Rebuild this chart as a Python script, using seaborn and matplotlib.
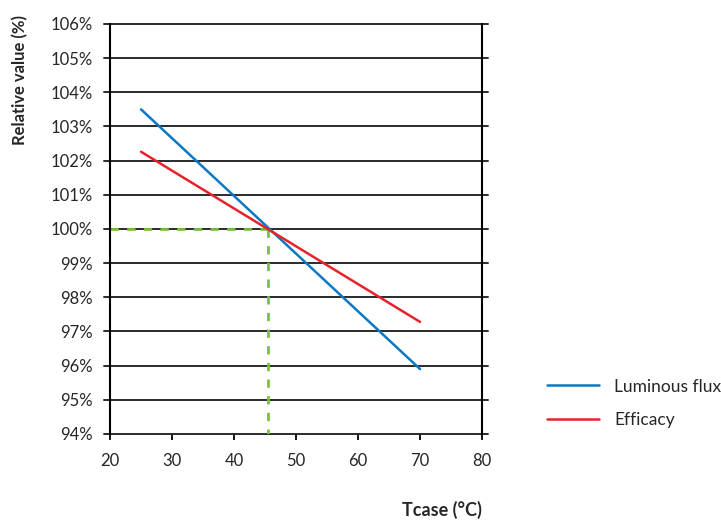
import numpy as np
import pandas as pd
import matplotlib
matplotlib.use("Agg")
import matplotlib.pyplot as plt
import seaborn as sns

# values
tcase = [25, 70]
luminous_flux = [103.5, 95.9]
efficacy = [102.26, 97.28]
ref_t = 45.5
ref_val = 100
y_ticks = list(range(94, 107))
x_ticks = list(range(20, 81, 10))

df = pd.DataFrame({
    "Tcase": tcase * 2,
    "value": luminous_flux + efficacy,
    "series": ["Luminous flux"] * 2 + ["Efficacy"] * 2,
})

sns.set_style("white")
plt.rcParams["font.family"] = ["Lato", "DejaVu Sans"]

fig = plt.figure(figsize=(7.21, 5.23), dpi=100)
ax = fig.add_axes([0.1526, 0.1702, 0.516, 0.784])

# horizontal grid lines, slightly past the spines like the original
for yv in y_ticks:
    ax.axhline(yv, xmin=-0.016, xmax=1.016, color="#2b2b2b", lw=1.4,
               zorder=1, clip_on=False)

# green reference lines
ax.plot([x_ticks[0], ref_t], [ref_val, ref_val], color="#7ac142", lw=2,
        ls=(0, (3, 3)), zorder=2)
ax.plot([ref_t, ref_t], [ref_val, y_ticks[0]], color="#7ac142", lw=2,
        ls=(0, (3, 3)), zorder=2)

sns.lineplot(data=df, x="Tcase", y="value", hue="series",
             palette={"Luminous flux": "#0a78c2", "Efficacy": "#e8222a"},
             lw=1.8, ax=ax, zorder=3)

ax.set_xlim(x_ticks[0], x_ticks[-1])
ax.set_ylim(y_ticks[0], y_ticks[-1])
ax.set_xticks(x_ticks)
ax.set_yticks(y_ticks)
ax.set_yticklabels([f"{v}%" for v in y_ticks])
ax.tick_params(axis="y", left=False, right=False, labelsize=12, pad=9)
ax.tick_params(axis="x", bottom=True, direction="out", length=4.5, width=1.3,
               color="black", labelsize=12, pad=9)

for s in ["top", "bottom"]:
    ax.spines[s].set_visible(False)
for s in ["left", "right"]:
    ax.spines[s].set_color("black")
    ax.spines[s].set_linewidth(1.5)

ax.set_xlabel("Tcase (°C)", fontsize=13, fontweight="bold")
ax.xaxis.set_label_coords(1.0, -0.185)
ax.xaxis.label.set_ha("right")
ax.xaxis.label.set_va("center")
ax.set_ylabel("Relative value (%)", fontsize=12, fontweight="bold")
ax.yaxis.set_label_coords(-0.243, 1.022)
ax.yaxis.label.set_va("center")
ax.yaxis.label.set_ha("right")

leg = ax.legend(loc="center left", bbox_to_anchor=(1.152, 0.075), frameon=False,
                fontsize=12.5, handlelength=3.0, handletextpad=0.85,
                labelspacing=1.0, borderpad=0, title=None)
for line in leg.get_lines():
    line.set_linewidth(1.8)

fig.savefig("out.png", dpi=100)
